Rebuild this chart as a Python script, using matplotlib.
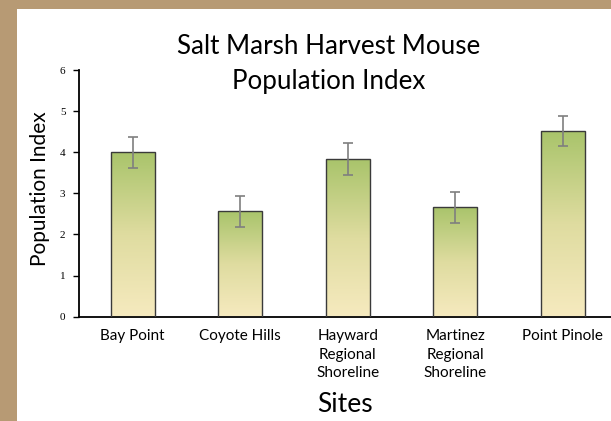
import numpy as np
import matplotlib
matplotlib.use("Agg")
import matplotlib.pyplot as plt
from matplotlib.colors import LinearSegmentedColormap
from matplotlib.patches import Rectangle

sites = ["Bay Point", "Coyote Hills", "Hayward\nRegional\nShoreline",
         "Martinez\nRegional\nShoreline", "Point Pinole"]
index_values = [4.0, 2.56, 3.84, 2.66, 4.52]
index_errors = [0.38, 0.38, 0.39, 0.38, 0.37]
y_ticks = [0, 1, 2, 3, 4, 5, 6]

sans = ["Lato", "DejaVu Sans"]
serif = ["Liberation Serif", "DejaVu Serif"]

fig = plt.figure(figsize=(6.11, 4.21), dpi=100)
fig.patch.set_facecolor("#b79a74")

# white card behind the chart
card = Rectangle((17 / 611, 0), 1, 1 - 9 / 421, transform=fig.transFigure,
                 facecolor="white", edgecolor="none", zorder=-5)
fig.patches.append(card)

# plot area runs past the right edge of the picture, as in the original slide
ax = fig.add_axes([79 / 611, 1 - 316.7 / 421, 537.5 / 611, 246.7 / 421])
ax.set_zorder(2)
ax.set_facecolor("none")

x = np.arange(len(sites))
bars = ax.bar(x, index_values, width=0.405, color="none", edgecolor="#3a3a3a",
              linewidth=1.0, zorder=3)

# vertical gradient fill: pale cream at bottom to green at top
cmap = LinearSegmentedColormap.from_list("marsh", ["#f6eabf", "#dfdca0", "#a9c46b"])
grad = np.linspace(0, 1, 256).reshape(-1, 1)
for bar in bars:
    bx, by = bar.get_x(), bar.get_y()
    bw, bh = bar.get_width(), bar.get_height()
    im = ax.imshow(grad, cmap=cmap, origin="lower", aspect="auto",
                   extent=[bx, bx + bw, by, by + bh], zorder=2)
    im.set_clip_path(bar)

ax.errorbar(x, index_values, yerr=index_errors, fmt="none", ecolor="#7f7f7f",
            elinewidth=1.2, capsize=3.3, capthick=1.2, zorder=4)

ax.set_xlim(-0.5, 4.5)
ax.set_ylim(0, 6)
ax.set_yticks(y_ticks)
ax.set_yticklabels([str(t) for t in y_ticks], family=serif, fontsize=8)
ax.set_xticks(x)
ax.set_xticklabels(sites, family=sans, fontsize=11, linespacing=1.4, va="top")
ax.tick_params(axis="x", length=0, pad=9)
ax.tick_params(axis="y", length=4.3, width=1, direction="out", pad=5.5)
for side in ["top", "right"]:
    ax.spines[side].set_visible(False)
for side in ["left", "bottom"]:
    ax.spines[side].set_linewidth(1.3)
    ax.spines[side].set_color("black")

fig.text(329 / 611, 1 - 47 / 421, "Salt Marsh Harvest Mouse", family=sans,
         fontsize=18.7, ha="center", va="center")
fig.text(329 / 611, 1 - 82 / 421, "Population Index", family=sans,
         fontsize=18.7, ha="center", va="center")
fig.text(40 / 611, 1 - 189 / 421, "Population Index", family=sans,
         fontsize=15, ha="center", va="center", rotation=90)
fig.text(345 / 611, 1 - 405 / 421, "Sites", family=sans,
         fontsize=19, ha="center", va="center")

fig.savefig("out.png", dpi=100)
